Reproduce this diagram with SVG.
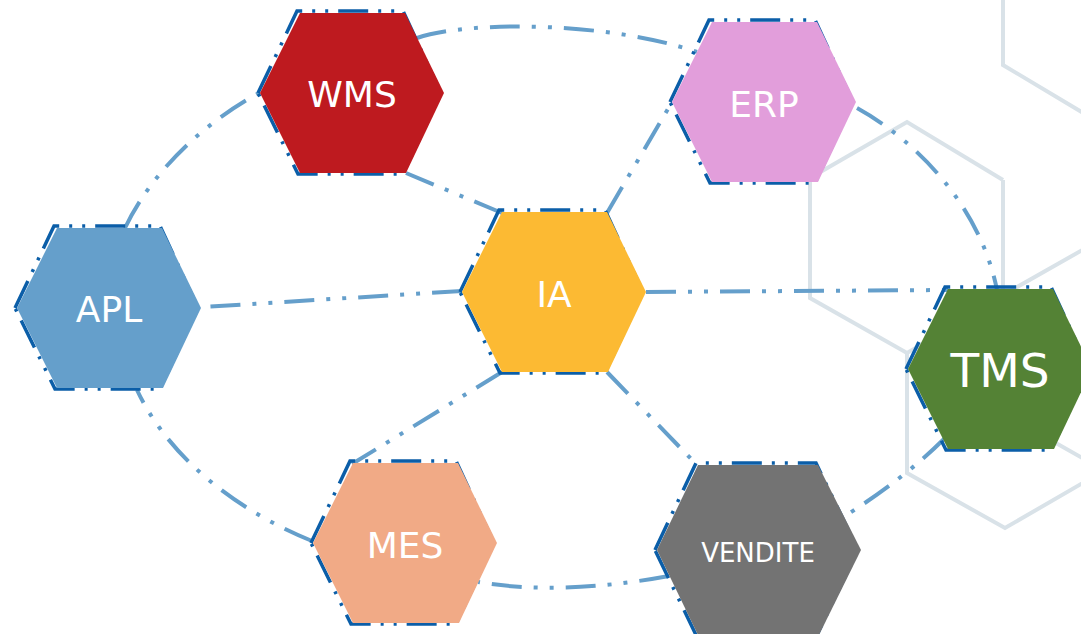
<svg xmlns="http://www.w3.org/2000/svg" xmlns:xlink="http://www.w3.org/1999/xlink" width="1081" height="634" viewBox="0 0 1081 634">
  <defs>
    <style>
      .honeycomb { fill: none; stroke: #d9e2e8; stroke-width: 4; stroke-linejoin: miter; }
      .link { fill: none; stroke: #659fcb; stroke-width: 4; stroke-dasharray: 30 12 4 12 4 12; }
      .edge { fill: none; stroke: #0b5ea8; stroke-width: 3.5; stroke-dasharray: 30 10 3 10 3 10; }
      .label { font-family: "DejaVu Sans", "Liberation Sans", sans-serif; fill: #ffffff; text-anchor: middle; }
    </style>
    <!-- standard hexagon, centred on the origin -->
    <polygon id="hex-edge" points="-94,0 -55,-82 51,-82 89,0 51,81 -54,81"/>
    <polygon id="hex-body" points="-92,0 -52,-80 53,-80 92,0 54,80 -52,80"/>
  </defs>

  <rect width="1081" height="634" fill="#ffffff"/>

  <!-- background honeycomb -->
  <g id="background">
    <path class="honeycomb" d="M1003,-5 V65 L1090,117"/>
    <path class="honeycomb" d="M1003,180 L907,122 L810,178 V298 L907,353 L1003,298"/>
    <path class="honeycomb" d="M1003,180 V295 L1100,240"/>
    <path class="honeycomb" d="M1003,295 V413 L1100,468"/>
    <path class="honeycomb" d="M907,353 V473 L1005,528 L1100,473"/>
  </g>

  <!-- connectors -->
  <g id="connectors">
    <!-- spokes from IA -->
    <path class="link" d="M502,213 L406,173"/>
    <path class="link" d="M607,213 L672,102"/>
    <path class="link" d="M462,291 L202,307"/>
    <path class="link" d="M646,292 L948,290"/>
    <path class="link" d="M502,372 L352,464"/>
    <path class="link" d="M607,372 L697,465"/>
    <!-- outer ring -->
    <path class="link" d="M417,38 C470,20 610,22 697,52"/>
    <path class="link" d="M857,108 C915,140 980,205 997,290"/>
    <path class="link" d="M945,438 Q905,478 845,516"/>
    <path class="link" d="M669,576 Q560,596 478,582"/>
    <path class="link" d="M312,541 C240,512 170,460 137,390"/>
    <path class="link" d="M125,228 C150,175 200,125 259,93"/>
  </g>

  <!-- nodes -->
  <g id="node-wms" transform="translate(352,93)">
    <use xlink:href="#hex-edge" class="edge"/>
    <use xlink:href="#hex-body" fill="#be1a1f"/>
  </g>
  <text class="label" x="352" y="107" font-size="36">WMS</text>

  <g id="node-erp" transform="translate(764,102)">
    <use xlink:href="#hex-edge" class="edge"/>
    <use xlink:href="#hex-body" fill="#e29edb"/>
  </g>
  <text class="label" x="764" y="117" font-size="36">ERP</text>

  <g id="node-apl" transform="translate(109,308)">
    <use xlink:href="#hex-edge" class="edge"/>
    <use xlink:href="#hex-body" fill="#659fcb"/>
  </g>
  <text class="label" x="109" y="322" font-size="36">APL</text>

  <g id="node-ia" transform="translate(554,292)">
    <use xlink:href="#hex-edge" class="edge"/>
    <use xlink:href="#hex-body" fill="#fcba33"/>
  </g>
  <text class="label" x="554" y="307" font-size="36">IA</text>

  <g id="node-tms" transform="translate(1000,369)">
    <use xlink:href="#hex-edge" class="edge"/>
    <use xlink:href="#hex-body" fill="#548235"/>
  </g>
  <text class="label" x="1000" y="387" font-size="47">TMS</text>

  <g id="node-mes" transform="translate(405,543)">
    <use xlink:href="#hex-edge" class="edge"/>
    <use xlink:href="#hex-body" fill="#f1aa86"/>
  </g>
  <text class="label" x="405" y="558" font-size="36">MES</text>

  <g id="node-vendite">
    <polygon class="edge" points="655,550 696,463 816,463 858,550 816,637 697,637"/>
    <polygon points="657,550 698,465 818,465 861,550 819,635 698,635" fill="#737373"/>
  </g>
  <text class="label" x="758" y="562" font-size="26" fill="#eeeeee">VENDITE</text>
</svg>
